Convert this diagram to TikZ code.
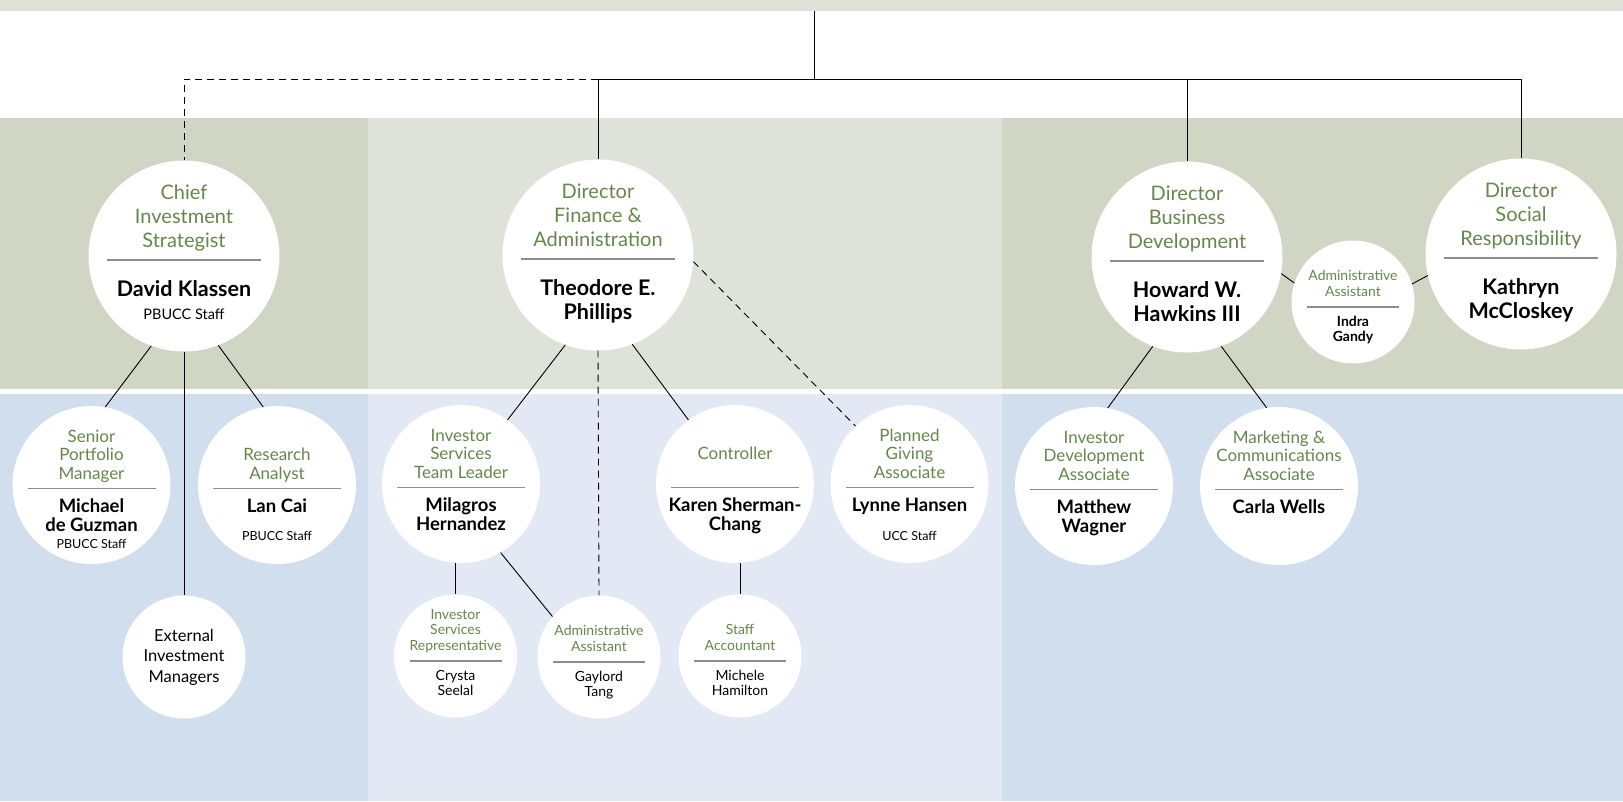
\documentclass[tikz,border=0pt]{standalone}
\usepackage{fontspec}
\setmainfont{Lato}
\usepackage{tikz}
\usetikzlibrary{calc}
\definecolor{bandgreen}{HTML}{D1D5C4}
\definecolor{bandpale}{HTML}{DFE2D8}
\definecolor{bandblue}{HTML}{D1DEED}
\definecolor{bandsky}{HTML}{E2E8F4}
\definecolor{titlegreen}{HTML}{67874A}
\definecolor{rulegrey}{HTML}{8C8C8C}
\newcommand{\staffnote}[2]{{\mdseries\fontsize{#1}{#1}\selectfont #2}}

\begin{document}
\begin{tikzpicture}[x=1pt,y=-1pt,
    bigc/.style={circle,fill=white,inner sep=0pt,minimum size=191pt,
      path picture={\draw[rulegrey,line width=1.2pt] ([shift={(-77pt,-4pt)}]path picture bounding box.center) -- ([shift={(77pt,-4pt)}]path picture bounding box.center);}},
    medc/.style={circle,fill=white,inner sep=0pt,minimum size=158pt,
      path picture={\draw[rulegrey,line width=1.2pt] ([shift={(-64pt,-3.5pt)}]path picture bounding box.center) -- ([shift={(64pt,-3.5pt)}]path picture bounding box.center);}},
    smc/.style={circle,fill=white,inner sep=0pt,minimum size=123pt,
      path picture={\draw[rulegrey,line width=1.2pt] ([shift={(-46pt,-5pt)}]path picture bounding box.center) -- ([shift={(46pt,-5pt)}]path picture bounding box.center);}},
    bigt/.style={anchor=base,yshift=9pt,align=center,text=titlegreen,inner sep=0pt,font=\fontsize{20}{24}\selectfont},
    bign/.style={anchor=north,yshift=-24pt,align=center,inner sep=0pt,font=\bfseries\fontsize{21.5}{24}\selectfont},
    medt/.style={anchor=base,yshift=6pt,align=center,text=titlegreen,inner sep=0pt,font=\fontsize{17}{18.5}\selectfont},
    medn/.style={anchor=north,yshift=-13.5pt,align=center,inner sep=0pt,font=\bfseries\fontsize{18.5}{19.5}\selectfont},
    smt/.style={anchor=base,yshift=6pt,align=center,text=titlegreen,inner sep=0pt,font=\fontsize{14}{15.5}\selectfont},
    smn/.style={anchor=north,yshift=-13.7pt,align=center,inner sep=0pt,font=\fontsize{14}{15.5}\selectfont},
    link/.style={draw=black,line width=0.9pt},
    dotlink/.style={link,dash pattern=on 7pt off 5pt}]

    % Bande di sfondo
    \fill[white] (0,0) rectangle (1623,801);
    \fill[bandpale] (0,0) rectangle (1623,11);
    \fill[bandgreen] (0,118) rectangle (368,389);
    \fill[bandpale] (368,118) rectangle (1002,389);
    \fill[bandgreen] (1002,118) rectangle (1623,389);
    \fill[bandblue] (0,394) rectangle (368,801);
    \fill[bandsky] (368,394) rectangle (1002,801);
    \fill[bandblue] (1002,394) rectangle (1623,801);
    \useasboundingbox (0,0) rectangle (1623,801);

    % Direttori
    \node[bigc] (cis) at (184,256) {};
    \node[bigt] (cis-t) at (cis) {Chief\\Investment\\Strategist};
    \node[bign] (cis-n) at (cis) {David Klassen\\[-1pt]\staffnote{14.5}{PBUCC Staff}};

    \node[bigc] (fin) at (598,255) {};
    \node[bigt] (fin-t) at (fin) {Director\\Finance \&\\Administration};
    \node[bign] (fin-n) at (fin) {Theodore E.\\Phillips};

    \node[bigc] (biz) at (1187,257) {};
    \node[bigt] (biz-t) at (biz) {Director\\Business\\Development};
    \node[bign] (biz-n) at (biz) {Howard W.\\Hawkins III};

    \node[bigc] (soc) at (1521,254) {};
    \node[bigt] (soc-t) at (soc) {Director\\Social\\Responsibility};
    \node[bign] (soc-n) at (soc) {Kathryn\\McCloskey};

    \node[smc] (adm) at (1353,302) {};
    \node[smt] (adm-t) at (adm) {Administrative\\Assistant};
    \node[smn] (adm-n) at (adm) {\bfseries Indra\\\bfseries Gandy};

    % Secondo livello
    \node[medc] (spm) at (91.5,485) {};
    \node[medt] (spm-t) at (spm) {Senior\\Portfolio\\Manager};
    \node[medn] (spm-n) at (spm) {Michael\\de Guzman\\[-3pt]\staffnote{12.5}{PBUCC Staff}};

    \node[medc] (ra) at (277,485) {};
    \node[medt] (ra-t) at (ra) {Research\\Analyst};
    \node[medn] (ra-n) at (ra) {Lan Cai\\[8.5pt]\staffnote{12.5}{PBUCC Staff}};

    \node[medc] (tl) at (461,484) {};
    \node[medt] (tl-t) at (tl) {Investor\\Services\\Team Leader};
    \node[medn] (tl-n) at (tl) {Milagros\\Hernandez};

    \node[medc] (ctl) at (735,484) {};
    \node[medt] (ctl-t) at (ctl) {Controller\\\mbox{}};
    \node[medn] (ctl-n) at (ctl) {Karen Sherman-\\Chang};

    \node[medc] (pga) at (909.5,484) {};
    \node[medt] (pga-t) at (pga) {Planned\\Giving\\Associate};
    \node[medn] (pga-n) at (pga) {Lynne Hansen\\[9.5pt]\staffnote{12.5}{UCC Staff}};

    \node[medc] (ida) at (1094,486) {};
    \node[medt] (ida-t) at (ida) {Investor\\Development\\Associate};
    \node[medn] (ida-n) at (ida) {Matthew\\Wagner};

    \node[medc] (mca) at (1279,486) {};
    \node[medt] (mca-t) at (mca) {Marketing \&\\Communications\\Associate};
    \node[medn] (mca-n) at (mca) {Carla Wells};

    % Terzo livello
    \node[circle,fill=white,inner sep=0pt,minimum size=123pt,align=center,font=\fontsize{16.5}{20.5}\selectfont] (eim) at (184,657) {External\\Investment\\Managers};

    \node[smc] (isr) at (455.5,656) {};
    \node[smt] (isr-t) at (isr) {Investor\\Services\\Representative};
    \node[smn] (isr-n) at (isr) {Crysta\\Seelal};

    \node[smc] (gt) at (599,657) {};
    \node[smt] (gt-t) at (gt) {Administrative\\Assistant};
    \node[smn] (gt-n) at (gt) {Gaylord\\Tang};

    \node[smc] (sa) at (740,656) {};
    \node[smt] (sa-t) at (sa) {Staff\\Accountant};
    \node[smn] (sa-n) at (sa) {Michele\\Hamilton};

    % Collegamenti
    \coordinate (top) at (814,11);
    \coordinate (bus) at (814,79);
    \draw[link] (top) -- (bus);
    \draw[link] (fin.north) -- (fin.north |- bus) -- (soc.north |- bus) -- (soc.north);
    \draw[link] (biz.north) -- (biz.north |- bus);
    \draw[dotlink] (fin.north |- bus) -- (cis.north |- bus) -- (cis.north);

    \draw[link] (cis.250) -- (spm.80);
    \draw[link] (cis.south) -- (eim.north);
    \draw[link] (cis.291) -- (ra.100);
    \draw[link] (fin.250) -- (tl.54);
    \draw[dotlink] (fin.south) -- (gt.north);
    \draw[link] (fin.291) -- (ctl.126);
    \draw[dotlink] (fin.356) -- (pga.133);
    \draw[link] (tl.south -| isr.north) -- (isr.north);
    \draw[link] (tl.300) -- (gt.139);
    \draw[link] (ctl.south -| sa.north) -- (sa.north);
    \draw[link] (biz.249) -- (ida.80);
    \draw[link] (biz.291) -- (mca.99);
    \draw[link] (biz.350) -- (adm.162);
    \draw[link] (adm.17) -- (soc.193);
\end{tikzpicture}
\end{document}
